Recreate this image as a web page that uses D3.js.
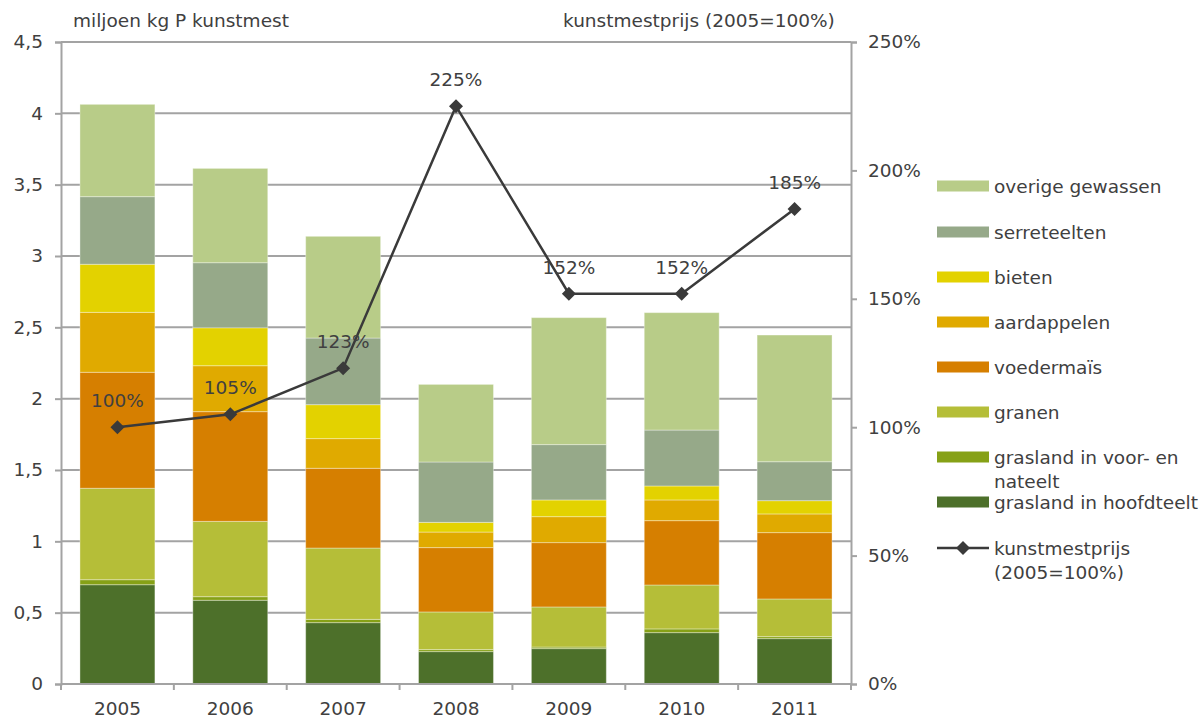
<!DOCTYPE html>
<html><head><meta charset="utf-8">
<script src="https://cdn.jsdelivr.net/npm/d3@7"></script>
<style>body{margin:0;background:#fff;overflow:hidden}text{font-family:"DejaVu Sans",Verdana,sans-serif;fill:#404040}</style>
</head><body><svg id="c" width="1202" height="716"></svg>
<script>
const years = ["2005","2006","2007","2008","2009","2010","2011"];
const seriesNames = ["grasland in hoofdteelt","grasland in voor- en nateelt","granen","voedermaïs","aardappelen","bieten","serreteelten","overige gewassen"];
const hoofdteelt = [0.696,0.587,0.430,0.227,0.248,0.360,0.318];
const voorNateelt = [0.035,0.025,0.023,0.014,0.011,0.026,0.014];
const granen = [0.641,0.528,0.500,0.264,0.281,0.308,0.264];
const voedermais = [0.813,0.769,0.559,0.451,0.451,0.451,0.465];
const aardappelen = [0.420,0.322,0.208,0.109,0.182,0.145,0.131];
const bieten = [0.337,0.266,0.238,0.068,0.117,0.098,0.093];
const serreteelten = [0.474,0.456,0.467,0.423,0.388,0.392,0.273];
const overige = [0.647,0.661,0.713,0.544,0.890,0.823,0.888];
const prijs = [100,105,123,225,152,152,185];
const leftTicks = [0,0.5,1,1.5,2,2.5,3,3.5,4,4.5];
const rightTicks = [0,50,100,150,200,250];
const colors = ["#4d702a","#86a116","#b5be38","#d67f00","#e0aa00","#e3d200","#96a989","#b8cc88"];

const FS = 18.5;
const seriesVals = [hoofdteelt,voorNateelt,granen,voedermais,aardappelen,bieten,serreteelten,overige];
const svg = d3.select("#c");
const L=61, R=851, T=42, B=684;
const x = d3.scaleBand().domain(years).range([L,R]).paddingInner(0.336).paddingOuter(0.168);
const y = d3.scaleLinear().domain([0,4.5]).range([B,T]);
const y2 = d3.scaleLinear().domain([0,250]).range([B,T]);
const grid="#a3a3a3";

// gridlines
svg.append("g").selectAll("line").data(leftTicks.slice(1)).join("line")
  .attr("x1",L).attr("x2",R).attr("y1",d=>y(d)).attr("y2",d=>y(d))
  .attr("stroke",grid).attr("stroke-width",2);

// stacked bars
const table = years.map((yr,i)=>{const o={year:yr}; seriesNames.forEach((s,j)=>o[s]=seriesVals[j][i]); return o;});
const stack = d3.stack().keys(seriesNames)(table);
svg.append("g").selectAll("g").data(stack).join("g").attr("fill",(d,i)=>colors[i])
  .selectAll("rect").data(d=>d).join("rect")
  .attr("x",d=>x(d.data.year)).attr("width",x.bandwidth())
  .attr("y",d=>y(d[1])).attr("height",d=>y(d[0])-y(d[1]))
  .attr("stroke","rgba(255,255,255,0.35)").attr("stroke-width",1);

// axes
const fmt = d=>String(d).replace(".",",");
const ax = svg.append("g").attr("transform",`translate(${L},0)`).call(d3.axisLeft(y).tickValues(leftTicks).tickFormat(fmt).tickSize(6).tickPadding(12));
const ax2 = svg.append("g").attr("transform",`translate(${R},0)`).call(d3.axisRight(y2).tickValues(rightTicks).tickFormat(d=>d+"%").tickSize(6).tickPadding(11));
const bx = svg.append("g").attr("transform",`translate(0,${B})`).call(d3.axisBottom(x).tickSize(0).tickPadding(18));
// x boundary ticks
svg.append("g").selectAll("line").data(d3.range(years.length+1)).join("line")
  .attr("x1",i=>L+i*(R-L)/years.length).attr("x2",i=>L+i*(R-L)/years.length)
  .attr("y1",B).attr("y2",B+6).attr("stroke",grid).attr("stroke-width",2);
[ax,ax2,bx].forEach(g=>{
  g.selectAll(".domain").attr("stroke",grid).attr("stroke-width",2);
  g.selectAll(".tick line").attr("stroke",grid).attr("stroke-width",2);
  g.selectAll("text").attr("font-size",FS).attr("fill","#404040").attr("font-family","DejaVu Sans, Verdana, sans-serif");
});
bx.selectAll(".domain").attr("d",`M${L},0H${R}`);

// line
const cx = d=>x(d)+x.bandwidth()/2;
const lineData = years.map((yr,i)=>({yr,v:prijs[i]}));
svg.append("path").datum(lineData).attr("fill","none").attr("stroke","#3a3a3a").attr("stroke-width",2.5)
  .attr("d",d3.line().x(d=>cx(d.yr)).y(d=>y2(d.v)));
svg.append("g").selectAll("path").data(lineData).join("path")
  .attr("transform",d=>`translate(${cx(d.yr)},${y2(d.v)})`)
  .attr("d","M0,-7L7,0L0,7L-7,0Z").attr("fill","#3a3a3a");
svg.append("g").selectAll("text").data(lineData).join("text")
  .attr("x",d=>cx(d.yr)).attr("y",d=>y2(d.v)-20).attr("text-anchor","middle")
  .attr("font-size",FS).text(d=>d.v+"%");

// axis titles
svg.append("text").attr("x",73).attr("y",27).attr("font-size",FS).text("miljoen kg P kunstmest");
svg.append("text").attr("x",563).attr("y",27).attr("font-size",FS).text("kunstmestprijs (2005=100%)");

// legend
const legendItems = [
  {name:"overige gewassen",c:colors[7],y:186},
  {name:"serreteelten",c:colors[6],y:232},
  {name:"bieten",c:colors[5],y:277},
  {name:"aardappelen",c:colors[4],y:322},
  {name:"voedermaïs",c:colors[3],y:367},
  {name:"granen",c:colors[2],y:412},
  {name:"grasland in voor- en|nateelt",c:colors[1],y:457},
  {name:"grasland in hoofdteelt",c:colors[0],y:502}
];
const lg = svg.append("g");
legendItems.forEach(it=>{
  lg.append("rect").attr("x",937).attr("y",it.y-5.5).attr("width",52).attr("height",11).attr("fill",it.c);
  const t = lg.append("text").attr("x",994).attr("y",it.y+6.5).attr("font-size",FS);
  it.name.split("|").forEach((s,k)=>t.append("tspan").attr("x",994).attr("dy",k?24:0).text(s));
});
lg.append("line").attr("x1",937).attr("x2",989).attr("y1",548).attr("y2",548).attr("stroke","#3a3a3a").attr("stroke-width",2.5);
lg.append("path").attr("transform","translate(963,548)").attr("d","M0,-7L7,0L0,7L-7,0Z").attr("fill","#3a3a3a");
const lt = lg.append("text").attr("x",994).attr("y",554.5).attr("font-size",FS);
lt.append("tspan").attr("x",994).text("kunstmestprijs");
lt.append("tspan").attr("x",994).attr("dy",24).text("(2005=100%)");
</script></body></html>
